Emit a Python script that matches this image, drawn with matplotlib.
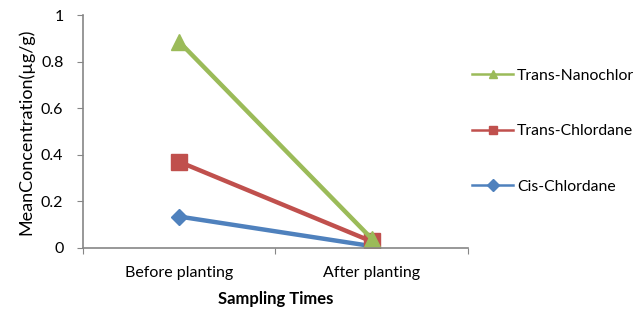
import matplotlib.pyplot as plt

# data
times = ["Before planting", "After planting"]
trans_nanochlor = [0.885, 0.04]
trans_chlordane = [0.37, 0.028]
cis_chlordane = [0.135, 0.008]

plt.rcParams['font.family'] = ['Lato', 'DejaVu Sans']

fig = plt.figure(figsize=(6.38, 3.30), dpi=100)
ax = fig.add_axes([0.130, 0.2485, 0.6035, 0.706])

x = range(len(times))
ax.plot(x, cis_chlordane, color="#4F81BD", lw=3.2, marker="D", ms=8,
        label="Cis-Chlordane")
ax.plot(x, trans_chlordane, color="#C0504D", lw=3.2, marker="s", ms=11,
        label="Trans-Chlordane")
ax.plot(x, trans_nanochlor, color="#9BBB59", lw=3.2, marker="^", ms=12,
        label="Trans-Nanochlor")

ax.set_xlim(-0.5, 1.5)
ax.set_ylim(0, 1)
ax.set_yticks([0, 0.2, 0.4, 0.6, 0.8, 1])
ax.set_yticklabels(["0", "0.2", "0.4", "0.6", "0.8", "1"])

# category boundaries as major ticks, labels on minor ticks
ax.set_xticks([-0.5, 0.5, 1.5])
ax.set_xticklabels([])
ax.set_xticks([0, 1], minor=True)
ax.set_xticklabels(times, minor=True)
ax.tick_params(axis="x", which="minor", length=0, pad=13, labelsize=11.5)
ax.tick_params(axis="x", which="major", length=4, color="#868686")
ax.tick_params(axis="y", length=4, color="#868686", labelsize=11.5, pad=10)

for s in ["top", "right"]:
    ax.spines[s].set_visible(False)
for s in ["left", "bottom"]:
    ax.spines[s].set_color("#868686")
    ax.spines[s].set_linewidth(1.2)

ax.set_xlabel("Sampling Times", fontsize=12, fontweight="bold", labelpad=8)
ax.set_ylabel("MeanConcentration(µg/g)", fontsize=13, labelpad=5)

# legend: reverse order, small markers
h, l = ax.get_legend_handles_labels()
leg_h = []
for line in h[::-1]:
    c = plt.Line2D([], [], color=line.get_color(), lw=1.8,
                   marker=line.get_marker(), ms=6)
    leg_h.append(c)
fig.legend(leg_h, l[::-1], loc="upper left", bbox_to_anchor=(0.718, 0.835),
           frameon=False, fontsize=11.3, handlelength=2.6, handletextpad=0.25,
           labelspacing=2.65)

fig.savefig("out.png", dpi=100)
